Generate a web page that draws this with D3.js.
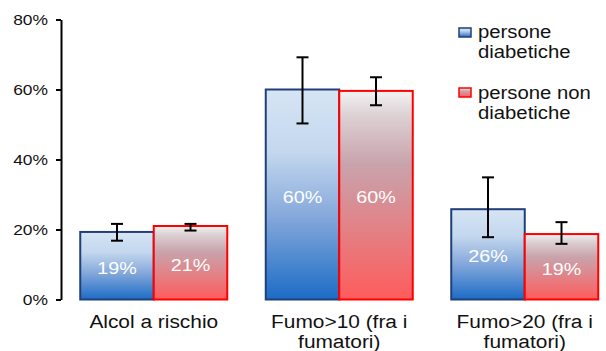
<html>
<head>
<script src="https://d3js.org/d3.v7.min.js"></script>
<style>
  body { margin: 0; background: #fff; }
  svg { font-family: "Liberation Sans", Arial, sans-serif; }
</style>
</head>
<body>
<svg id="chart" width="606" height="351"></svg>
<script>
// data
const categories = ["Alcol a rischio", "Fumo>10 (fra i|fumatori)", "Fumo>20 (fra i|fumatori)"];
const seriesNames = ["persone diabetiche", "persone non diabetiche"];
const diabetici = [0.193, 0.60, 0.258];
const nonDiabetici = [0.21, 0.596, 0.187];
const diabeticiLow = [0.168, 0.503, 0.178];
const diabeticiHigh = [0.216, 0.692, 0.349];
const nonDiabeticiLow = [0.197, 0.555, 0.159];
const nonDiabeticiHigh = [0.216, 0.635, 0.221];
const yTicks = [0, 0.2, 0.4, 0.6, 0.8];

const sx = 1.16; // the original picture is stretched sideways
const svg = d3.select("#chart");

// gradients
const defs = svg.append("defs");
function grad(id, stops) {
  const g = defs.append("linearGradient").attr("id", id)
    .attr("x1", 0).attr("y1", 0).attr("x2", 0).attr("y2", 1);
  stops.forEach(s => g.append("stop").attr("offset", s[0]).attr("stop-color", s[1]));
}
grad("gBlue", [[0, "#d6e5f4"], [0.3, "#c3d7ee"], [0.6, "#86a9db"], [1, "#1c6cc6"]]);
grad("gRed", [[0, "#f2f2f2"], [0.12, "#dcd0d3"], [0.35, "#c9a3ac"], [1, "#fe5c5c"]]);

const series = [
  {name: seriesNames[0], values: diabetici, lo: diabeticiLow, hi: diabeticiHigh, fill: "url(#gBlue)", stroke: "#213f78"},
  {name: seriesNames[1], values: nonDiabetici, lo: nonDiabeticiLow, hi: nonDiabeticiHigh, fill: "url(#gRed)", stroke: "#ff0000"}
];

const y = d3.scaleLinear().domain([0, 0.8]).range([299.5, 19.5]);
const x0 = d3.scaleBand().domain(categories).range([61, 617.5]);
const bw = x0.bandwidth();
const x1 = d3.scaleBand().domain(d3.range(series.length)).range([bw / 2 - 73.5, bw / 2 + 73.5]);

function stretchedText(sel, tx, ty, str, size, anchor, fill) {
  return sel.append("text")
    .attr("transform", `translate(${tx},${ty}) scale(${sx},1)`)
    .attr("text-anchor", anchor)
    .style("font-size", size + "px")
    .attr("fill", fill || "#111")
    .text(str);
}

// y axis
const yAxis = svg.append("g").attr("transform", "translate(61,0)")
  .call(d3.axisLeft(y).tickValues(yTicks).tickFormat(d3.format(".0%")).tickSize(5).tickSizeOuter(0));
yAxis.select(".domain").attr("stroke", "#000").attr("stroke-width", 2);
yAxis.selectAll(".tick line").attr("stroke", "#000").attr("stroke-width", 2);
yAxis.selectAll(".tick text").remove();
yTicks.forEach(t => stretchedText(svg, 48, y(t) + 5, d3.format(".0%")(t), 15, "end"));

// bars
series.forEach((s, si) => {
  const g = svg.append("g");
  categories.forEach((c, ci) => {
    const bx = x0(c) + x1(si);
    g.append("rect")
      .attr("x", bx).attr("y", y(s.values[ci]))
      .attr("width", x1.bandwidth()).attr("height", y(0) - y(s.values[ci]))
      .attr("fill", s.fill).attr("stroke", s.stroke).attr("stroke-width", 2);
    const cx = bx + x1.bandwidth() / 2;
    // error bar
    g.append("line").attr("x1", cx).attr("x2", cx)
      .attr("y1", y(s.lo[ci])).attr("y2", y(s.hi[ci]))
      .attr("stroke", "#000").attr("stroke-width", 2);
    [s.lo[ci], s.hi[ci]].forEach(v => g.append("line")
      .attr("x1", cx - 6).attr("x2", cx + 6).attr("y1", y(v)).attr("y2", y(v))
      .attr("stroke", "#000").attr("stroke-width", 2));
    // value label
    const mid = (y(s.values[ci]) + y(0)) / 2;
    stretchedText(g, cx, mid + 8, d3.format(".0%")(s.values[ci]), 17, "middle", "#fff");
  });
});

// category labels
categories.forEach(c => {
  c.split("|").forEach((line, i) => {
    stretchedText(svg, x0(c) + bw / 2, 328 + i * 20, line, 18, "middle");
  });
});

// legend
const legendLines = [["persone", "diabetiche"], ["persone non", "diabetiche"]];
series.forEach((s, si) => {
  const ly = 28 + si * 60;
  svg.append("rect").attr("x", 459).attr("y", ly).attr("width", 12).attr("height", 9)
    .attr("fill", s.fill).attr("stroke", s.stroke).attr("stroke-width", 1.5);
  legendLines[si].forEach((t, i) => stretchedText(svg, 478, ly + 10 + si + i * 20, t, 17.5, "start"));
});
</script>
</body>
</html>
